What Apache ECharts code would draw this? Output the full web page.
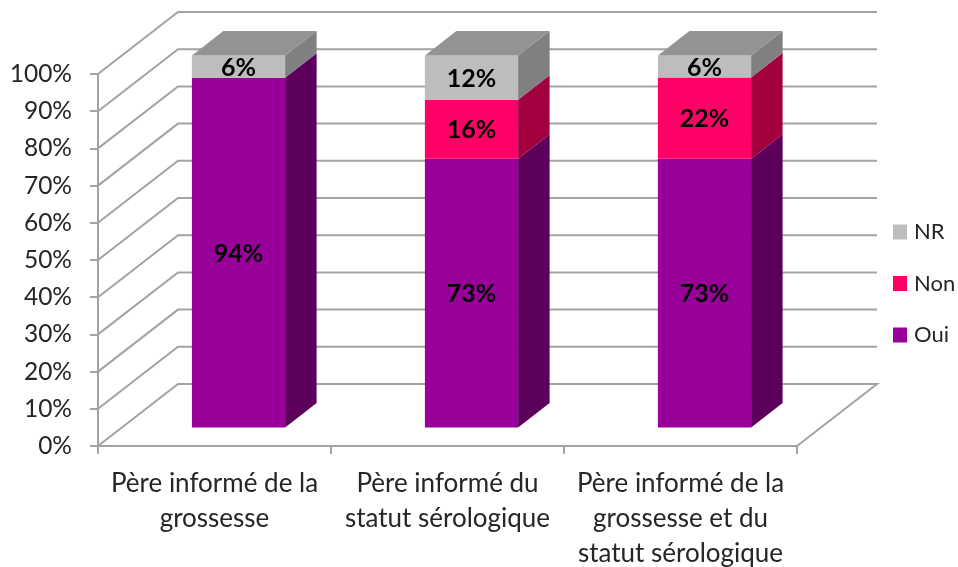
<!DOCTYPE html>
<html>
<head>
<meta charset="utf-8">
<style>
    html, body { margin: 0; padding: 0; background: #fff; }
    #chart { width: 958px; height: 567px; }
</style>
<script src="https://cdn.jsdelivr.net/npm/echarts@6/dist/echarts.min.js"></script>
</head>
<body>
<div id="chart"></div>
<script>
// Chart data
const categories = [
    'Père informé de la\ngrossesse',
    'Père informé du\nstatut sérologique',
    'Père informé de la\ngrossesse et du\nstatut sérologique'
];
const oui = [94, 73, 73];
const non = [0, 16, 22];
const nr = [6, 12, 6];
const wallTicks = [0, 10, 20, 30, 40, 50, 60, 70, 80, 90, 100];

// Fake 3D: pixel offsets of the back wall and of the bars
const WALL_DX = 80, WALL_DY = -62;
const BAR_DX = 24, BAR_DY = -18.5;
const DEPTH_DX = 31.5, DEPTH_DY = -24.5;
const BAR_RATIO = 0.4;
const FONT = 'Lato, "Open Sans", sans-serif';

const totals = categories.map((c, i) => oui[i] + non[i] + nr[i]);

// Excel stacks to 100%, so the parts are scaled by the column total
function stackedRows(values, below) {
    return values.map((v, i) => {
        const start = below.reduce((sum, arr) => sum + arr[i], 0);
        return [i, start / totals[i] * 100, (start + v) / totals[i] * 100, v];
    });
}

function poly(points, color) {
    return { type: 'polygon', shape: { points: points }, style: { fill: color } };
}

function barRenderer(front, side, top) {
    return function (params, api) {
        if (api.value(3) === 0) return null;
        const cat = api.value(0);
        const band = api.size([1, 0])[0];
        const w = band * BAR_RATIO;
        const lo = api.coord([cat, api.value(1)]);
        const hi = api.coord([cat, api.value(2)]);
        const xl = lo[0] - w / 2 + BAR_DX, xr = xl + w;
        const yb = lo[1] + BAR_DY, yt = hi[1] + BAR_DY;
        const children = [
            poly([[xl, yb], [xr, yb], [xr, yt], [xl, yt]], front),
            poly([[xr, yb], [xr + DEPTH_DX, yb + DEPTH_DY], [xr + DEPTH_DX, yt + DEPTH_DY], [xr, yt]], side)
        ];
        if (top) {
            children.push(poly([[xl, yt], [xr, yt], [xr + DEPTH_DX, yt + DEPTH_DY], [xl + DEPTH_DX, yt + DEPTH_DY]], top));
        }
        children.push({
            type: 'text',
            z2: 10,
            style: {
                text: api.value(3) + '%',
                x: (xl + xr) / 2,
                y: (yb + yt) / 2 + 1,
                align: 'center',
                verticalAlign: 'middle',
                fill: '#000',
                font: 'bold 25px ' + FONT
            }
        });
        return { type: 'group', children: children };
    };
}

function wallRenderer(params, api) {
    const sys = params.coordSys;
    const p = api.coord([0, api.value(0)]);
    const x0 = sys.x, y = p[1];
    const pts = [[x0, y], [x0 + WALL_DX, y + WALL_DY], [x0 + sys.width + WALL_DX, y + WALL_DY]];
    if (api.value(0) === 0) pts.push([x0 + sys.width, y]); // floor edge
    return {
        type: 'polyline',
        shape: { points: pts },
        style: { stroke: '#a3a3a3', lineWidth: 2, fill: null }
    };
}

const chart = echarts.init(document.getElementById('chart'));
chart.setOption({
    animation: false,
    backgroundColor: '#fff',
    textStyle: { fontFamily: FONT },
    grid: { left: 98, right: 161, top: 74, bottom: 121, outerBoundsMode: 'none' },
    xAxis: {
        type: 'category',
        data: categories,
        boundaryGap: true,
        axisLine: { lineStyle: { color: '#a3a3a3', width: 2 } },
        axisTick: { show: true, alignWithLabel: false, length: 8, lineStyle: { color: '#a3a3a3', width: 2 } },
        axisLabel: { color: '#262626', fontSize: 26, lineHeight: 35, margin: 20, interval: 0 }
    },
    yAxis: {
        type: 'value',
        min: 0,
        max: 100,
        interval: 10,
        axisLine: { show: true, lineStyle: { color: '#a3a3a3', width: 2 } },
        axisTick: { show: true, length: 8, lineStyle: { color: '#a3a3a3', width: 2 } },
        axisLabel: { color: '#262626', fontSize: 24.5, margin: 26, formatter: '{value}%' },
        splitLine: { show: false }
    },
    legend: {
        data: ['NR', 'Non', 'Oui'],
        orient: 'vertical',
        left: 893,
        top: 221,
        icon: 'rect',
        itemWidth: 14,
        itemHeight: 15,
        itemGap: 29.5,
        selectedMode: false,
        textStyle: { color: '#262626', fontSize: 22, padding: [0, 0, 0, 2] },
        padding: 0
    },
    series: [
        {
            name: 'walls',
            type: 'custom',
            z: 1,
            silent: true,
            renderItem: wallRenderer,
            encode: { y: 0 },
            data: wallTicks.map(v => [v])
        },
        {
            name: 'Oui',
            type: 'custom',
            z: 3,
            itemStyle: { color: '#990099' },
            renderItem: barRenderer('#990099', '#5c005c'),
            encode: { x: 0, y: [1, 2] },
            data: stackedRows(oui, [])
        },
        {
            name: 'Non',
            type: 'custom',
            z: 3,
            itemStyle: { color: '#ff0066' },
            renderItem: barRenderer('#ff0066', '#a3003f'),
            encode: { x: 0, y: [1, 2] },
            data: stackedRows(non, [oui])
        },
        {
            name: 'NR',
            type: 'custom',
            z: 3,
            itemStyle: { color: '#bdbdbd' },
            renderItem: barRenderer('#bdbdbd', '#808080', '#939393'),
            encode: { x: 0, y: [1, 2] },
            data: stackedRows(nr, [oui, non])
        }
    ]
});
</script>
</body>
</html>
